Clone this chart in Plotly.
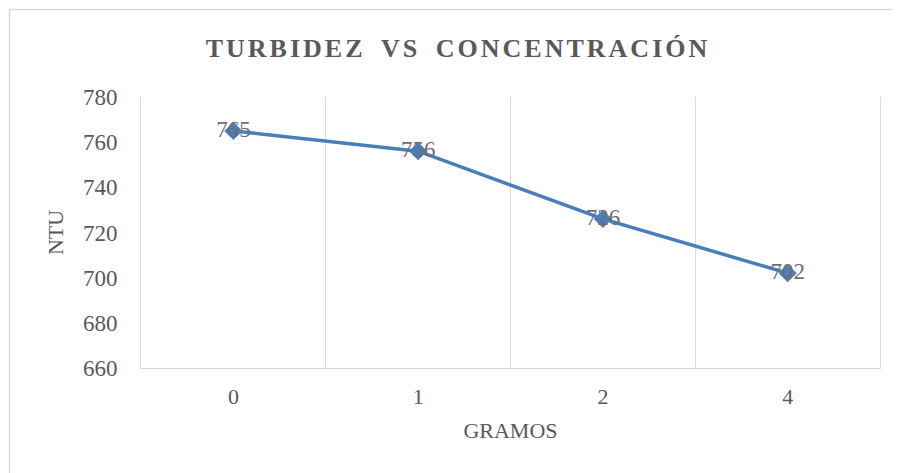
import plotly.graph_objects as go

categories = ["0", "1", "2", "4"]
ntu_values = [765, 756, 726, 702]
y_ticks = [660, 680, 700, 720, 740, 760, 780]
title_words = ["TURBIDEZ", "VS", "CONCENTRACIÓN"]

FONT = "Liberation Serif"
GRAY = "#595959"
GRID = "#d9d9d9"
BLUE = "#4a7ebb"

# page body adds an 8px offset; margins compensate so the plot lands where the reference has it
L, R, T, B = 133, 28, 89, 113
PW = 900 - L - R
PH = 473 - T - B

space = '<span style="letter-spacing:9px"> </span>'
title_html = ('<span style="letter-spacing:3px">'
              + space.join(title_words) + '</span>')

fig = go.Figure()
fig.add_trace(go.Scatter(
    x=categories,
    y=ntu_values,
    mode="lines+markers+text",
    text=[str(v) for v in ntu_values],
    textposition="middle center",
    textfont=dict(family=FONT, size=23, color="#6f6f6f"),
    line=dict(color=BLUE, width=3.5),
    marker=dict(symbol="diamond", size=14, color=BLUE),
    cliponaxis=False,
    hoverinfo="x+y",
))

fig.update_layout(
    width=900,
    height=473,
    paper_bgcolor="white",
    plot_bgcolor="white",
    showlegend=False,
    margin=dict(l=L, r=R, t=T, b=B),
    title=dict(
        text=title_html,
        font=dict(family=FONT, size=26, color=GRAY, weight="bold"),
        x=(458 - 8) / 900, xanchor="center",
        y=1 - 40 / 473, yanchor="middle", yref="container",
    ),
    xaxis=dict(
        type="category",
        range=[-0.5, 3.5],
        tickson="boundaries",
        showgrid=True,
        gridcolor=GRID,
        gridwidth=1,
        showline=True,
        linecolor=GRID,
        linewidth=1,
        ticks="",
        ticklabelstandoff=9,
        tickfont=dict(family=FONT, size=22, color=GRAY),
        title=dict(text="GRAMOS", standoff=14,
                   font=dict(family=FONT, size=22, color=GRAY)),
        zeroline=False,
    ),
    yaxis=dict(
        range=[660, 780],
        tickvals=y_ticks,
        showgrid=False,
        showline=True,
        mirror=True,
        linecolor=GRID,
        linewidth=1,
        ticks="",
        ticklabelstandoff=18,
        tickfont=dict(family=FONT, size=23, color=GRAY),
        title=dict(text="NTU", standoff=13,
                   font=dict(family=FONT, size=22, color=GRAY)),
        zeroline=False,
    ),
    shapes=[dict(
        type="rect", xref="paper", yref="paper",
        x0=(1.5 - L) / PW, x1=(910 - L) / PW,
        y0=(PH - 490) / PH, y1=(PH + T - 1.5) / PH,
        line=dict(color=GRID, width=1.5),
        fillcolor="rgba(0,0,0,0)",
        layer="below",
    )],
)

fig.write_html("out.html")
